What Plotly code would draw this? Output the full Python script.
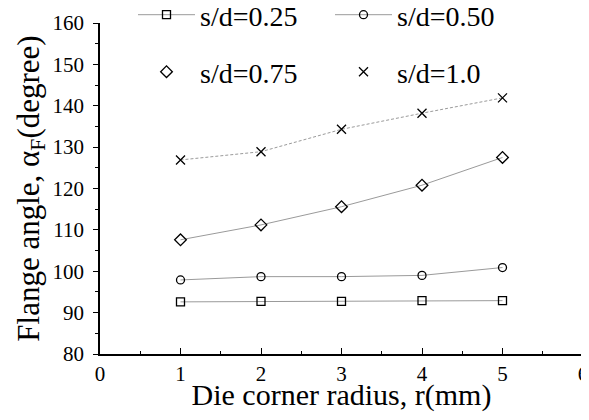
import plotly.graph_objects as go

radius = [1, 2, 3, 4, 5]
sd025 = [92.6, 92.7, 92.7, 92.9, 92.9]
sd050 = [97.9, 98.7, 98.7, 99.0, 100.9]
sd075 = [107.6, 111.2, 115.6, 120.8, 127.5]
sd100 = [126.9, 128.9, 134.3, 138.2, 141.9]

FONT = "Liberation Serif"
LINE_COL = "#9a9a9a"

# page body has an 8px margin; compensate so the plot lands where it should
W, H = 581, 404
OFF = 8

fig = go.Figure()

fig.add_trace(go.Scatter(
    x=radius, y=sd025, mode="lines+markers", name="s/d=0.25",
    line=dict(color=LINE_COL, width=1),
    marker=dict(symbol="square-open", size=8, color="black", line=dict(width=1.3)),
    legend="legend"))
fig.add_trace(go.Scatter(
    x=radius, y=sd050, mode="lines+markers", name="s/d=0.50",
    line=dict(color=LINE_COL, width=1),
    marker=dict(symbol="circle-open", size=8, color="black", line=dict(width=1.3)),
    legend="legend"))
fig.add_trace(go.Scatter(
    x=radius, y=sd075, mode="lines", showlegend=False,
    line=dict(color=LINE_COL, width=1)))
fig.add_trace(go.Scatter(
    x=radius, y=sd075, mode="markers", name="s/d=0.75",
    marker=dict(symbol="diamond-open", size=9, color="black", line=dict(width=1.3)),
    legend="legend2"))
fig.add_trace(go.Scatter(
    x=radius, y=sd100, mode="lines", showlegend=False,
    line=dict(color=LINE_COL, width=1, dash="3px,2px")))
fig.add_trace(go.Scatter(
    x=radius, y=sd100, mode="markers", name="s/d=1.0",
    marker=dict(symbol="x-thin-open", size=9, color="black", line=dict(width=1.3)),
    legend="legend2"))

legend_common = dict(
    orientation="h", xref="container", yref="container",
    xanchor="left", yanchor="middle",
    font=dict(family=FONT, size=28, color="black"),
    bgcolor="rgba(0,0,0,0)", entrywidth=125, itemwidth=57,
    tracegroupgap=0,
)

fig.update_layout(
    template="none",
    width=W, height=H,
    margin=dict(l=100 - OFF, r=6, t=23 - OFF, b=(H + OFF) - 354, autoexpand=False),
    paper_bgcolor="white", plot_bgcolor="white",
    font=dict(family=FONT, color="black"),
    showlegend=True,
    legend=dict(x=(133 - OFF) / W, y=1 - (15 - OFF) / H, **legend_common),
    legend2=dict(x=(133 - OFF) / W, y=1 - (72 - OFF) / H, **legend_common),
    xaxis=dict(
        range=[0, 6], dtick=1, tick0=0,
        showline=True, linecolor="black", linewidth=1.5, mirror=False,
        showgrid=False, zeroline=False,
        ticks="inside", ticklen=6, tickwidth=1.3, tickcolor="black",
        minor=dict(dtick=0.5, ticks="inside", ticklen=3, tickwidth=1.3, tickcolor="black", showgrid=False),
        tickfont=dict(family=FONT, size=21, color="black"),
        ticklabeloverflow="allow",
        title=dict(text="Die corner radius, r(mm)", font=dict(family=FONT, size=30, color="black"), standoff=2),
    ),
    yaxis=dict(
        range=[80, 160], dtick=10, tick0=80,
        showline=True, linecolor="black", linewidth=1.5, mirror=False,
        showgrid=False, zeroline=False,
        ticks="outside", ticklen=5, tickwidth=1.3, tickcolor="black",
        minor=dict(dtick=5, tick0=80, ticks="outside", ticklen=3, tickwidth=1.3, tickcolor="black", showgrid=False),
        tickfont=dict(family=FONT, size=21, color="black"),
        ticklabelstandoff=5,
        title=dict(text="Flange angle, α<sub>F</sub>(degree)", font=dict(family=FONT, size=31, color="black"), standoff=4),
    ),
)

fig.write_html("out.html")
